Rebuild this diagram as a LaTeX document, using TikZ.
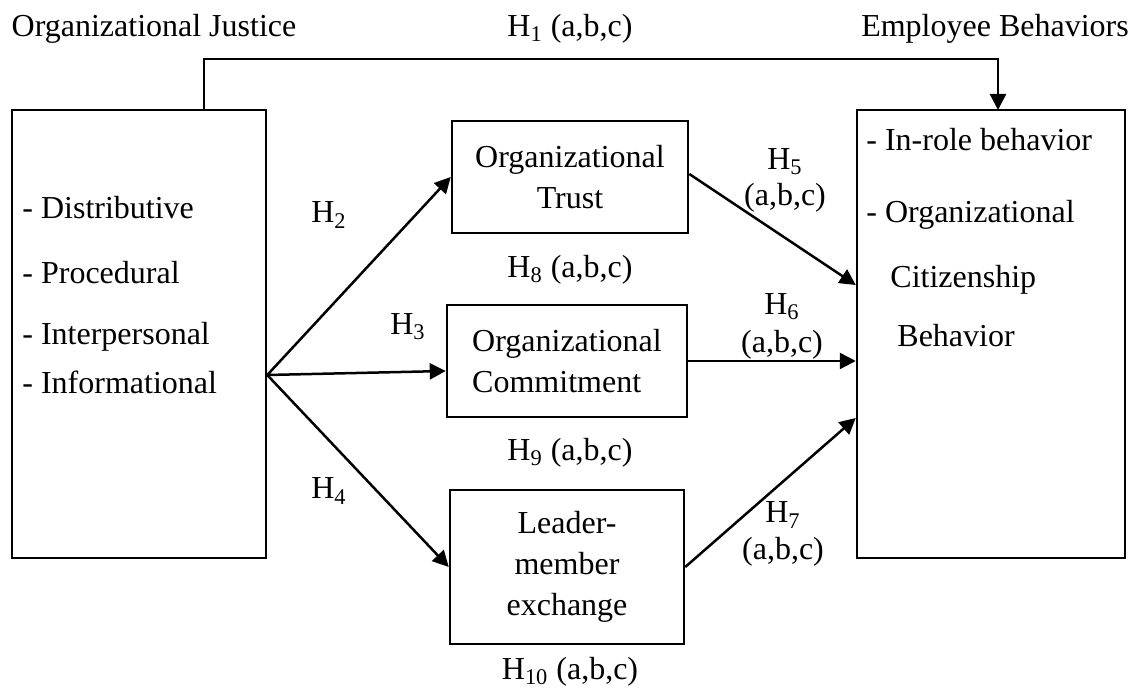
\documentclass[tikz,border=0pt]{standalone}
\usepackage{fontspec}
\setmainfont{Liberation Serif}
\usetikzlibrary{arrows.meta,calc}
\begin{document}
\begin{tikzpicture}[x=0.5pt,y=-0.5pt,
  font=\fontsize{16}{20.5}\selectfont,
  box/.style={draw, line width=1.25pt, inner sep=0pt},
  arr/.style={-{Triangle[length=8pt,width=8pt]}, line width=1.25pt},
  lbl/.style={inner sep=0pt}]
\useasboundingbox (0,0) rectangle (1140,688);
% boxes
\node[box, minimum width=127pt, minimum height=224pt] (L) at (139,334) {};
\node[box, minimum width=134pt, minimum height=224pt] (R) at (991,334) {};
\node[box, minimum width=118pt, minimum height=56pt, align=center] (T) at (570,177) {Organizational\\Trust};
\node[box, minimum width=120pt, minimum height=56pt, align=left] (C) at (567,361) {Organizational\\Commitment};
\node[box, minimum width=117pt, minimum height=77pt, align=center] (M) at (567,567) {Leader-\\member\\exchange};
% texts in left box
\node[lbl, anchor=west] (d1) at (22,208) {- Distributive};
\node[lbl, anchor=west] (d2) at (22,273) {- Procedural};
\node[lbl, anchor=west] (d3) at (22,337) {- Interpersonal};
\node[lbl, anchor=west] (d4) at (22,382) {- Informational};
% texts in right box
\node[lbl, anchor=west] (e1) at (866,140) {- In-role behavior};
\node[lbl, anchor=west] (e2) at (866,215) {- Organizational};
\node[lbl, anchor=west] (e3) at (890,280) {Citizenship};
\node[lbl, anchor=west] (e4) at (897,336) {Behavior};
% headings
\node[lbl] (oj) at (154,29) {Organizational Justice};
\node[lbl] (eb) at (995,29) {Employee Behaviors};
% hypothesis labels
\node[lbl] (h1) at (570,29) {H\textsubscript{1} (a,b,c)};
\node[lbl] (h2) at (329,215) {H\textsubscript{2}};
\node[lbl] (h3) at (408,327) {H\textsubscript{3}};
\node[lbl] (h4) at (329,491) {H\textsubscript{4}};
\node[lbl] (h8) at (570,270) {H\textsubscript{8} (a,b,c)};
\node[lbl] (h9) at (570,453) {H\textsubscript{9} (a,b,c)};
\node[lbl] (h10) at (570,672) {H\textsubscript{10} (a,b,c)};
\node[lbl] (h5a) at (785,162) {H\textsubscript{5}};
\node[lbl] (h5b) at (785,198) {(a,b,c)};
\node[lbl] (h6a) at (782,307) {H\textsubscript{6}};
\node[lbl] (h6b) at (782,345) {(a,b,c)};
\node[lbl] (h7a) at (783,515) {H\textsubscript{7}};
\node[lbl] (h7b) at (783,552) {(a,b,c)};
% connectors
\coordinate (br) at ($(L.east)+(0,41)$);
\coordinate (ts) at (204,110);
\coordinate (te) at (998,110);
\draw[arr] (ts) -- ++(0,-51) -| (te);
\draw[arr] (br) -- (T.west);
\draw[arr] (br) -- ($(C.west)+(0,10)$);
\draw[arr] (br) -- (M.west);
\draw[arr] ($(T.east)+(0,-3)$) -- ($(R.west)+(0,-49)$);
\draw[arr] (C.east) -- (C.east -| R.west);
\draw[arr] (M.east) -- ($(R.west)+(0,84)$);
\end{tikzpicture}
\end{document}
